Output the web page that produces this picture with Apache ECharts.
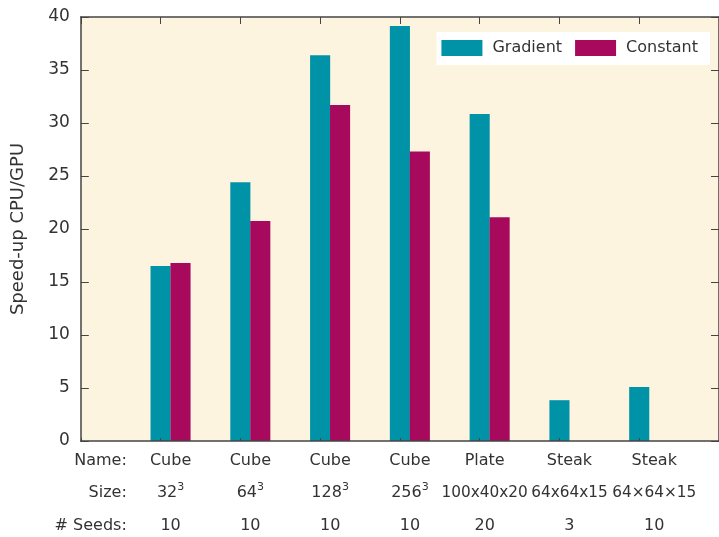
<!DOCTYPE html>
<html>
<head>
<meta charset="utf-8">
<script src="https://cdn.jsdelivr.net/npm/echarts@6/dist/echarts.min.js"></script>
<style>html,body{margin:0;padding:0;background:#fff}#c{width:719px;height:537px}</style>
</head>
<body>
<div id="c"></div>
<script>
// Data
const names = ["Cube", "Cube", "Cube", "Cube", "Plate", "Steak", "Steak"];
const sizeBase = ["32", "64", "128", "256", "100x40x20", "64x64x15", "64×64×15"];
const sizeExp = ["3", "3", "3", "3", "", "", ""];
const seeds = ["10", "10", "10", "10", "20", "3", "10"];
const rowHeaders = ["Name:", "Size:", "# Seeds:"];
const gradient = [16.5, 24.4, 36.4, 39.15, 30.85, 3.85, 5.1];
const constant = [16.8, 20.75, 31.7, 27.3, 21.1, null, null];
const seriesNames = ["Gradient", "Constant"];
const yTicks = { min: 0, max: 40, interval: 5 };

const FONT = "DejaVu Sans";
const TXT = "#333333";
const AX = "#444444";

// label nudges (style only): suffix per column index
const nudge = { 4: 'L', 6: 'R' };

const chart = echarts.init(document.getElementById('c'), null, { renderer: 'canvas' });

const gradData = gradient.map((v, i) => [i + 1, v]);
const constData = constant.map((v, i) => [i + 1.25, v == null ? '-' : v]);

const baseA = { fontFamily: FONT, fontSize: 16, color: TXT, lineHeight: 32.5 };
const baseN = { fontFamily: FONT, fontSize: 15.3, color: TXT, lineHeight: 32.5 };
const rich = {
  a: baseA, aL: Object.assign({}, baseA, { padding: [0, 10, 0, 0] }), aR: Object.assign({}, baseA, { padding: [0, 0, 0, 10] }),
  n: baseN, nL: Object.assign({}, baseN, { padding: [0, 10, 0, 0] }), nR: Object.assign({}, baseN, { padding: [0, 0, 0, 10] }),
  s: { fontFamily: FONT, fontSize: 11, color: TXT, padding: [0, 0, 12, 0] },
  h: { fontFamily: FONT, fontSize: 16, color: TXT, lineHeight: 32.5, width: 72, align: 'right' }
};

function xLabel(v) {
  if (v === 0) return rowHeaders.map(h => '{h|' + h + '}').join('\n');
  const i = Math.round(v) - 1;
  if (i < 0 || i >= names.length) return '';
  const sfx = nudge[i] || '';
  const l1 = '{a' + sfx + '|' + names[i] + '}';
  const l2 = sizeExp[i] ? '{a|' + sizeBase[i] + '}{s|' + sizeExp[i] + '}' : '{n' + sfx + '|' + sizeBase[i] + '}';
  const l3 = '{a' + sfx + '|' + seeds[i] + '}';
  return l1 + '\n' + l2 + '\n' + l3;
}

const option = {
  backgroundColor: '#ffffff',
  animation: false,
  textStyle: { fontFamily: FONT },
  grid: {
    left: 80.8, right: -5.8, top: 17, bottom: 96,
    show: true, backgroundColor: '#fdf4e0', borderWidth: 0, z: 0
  },
  legend: {
    data: seriesNames,
    right: 9, top: 32,
    backgroundColor: '#ffffff',
    padding: [8, 12, 9, 5],
    itemWidth: 41, itemHeight: 16, itemGap: 13,
    icon: 'rect',
    textStyle: { fontFamily: FONT, fontSize: 16, color: TXT, padding: [0, 0, 0, 5] }
  },
  xAxis: [
    {
      type: 'value', position: 'bottom', min: 0, max: 8, interval: 1, z: 5,
      axisLine: { show: true, onZero: false, lineStyle: { color: AX, width: 1.5 } },
      axisTick: { show: true, inside: true, length: 3, lineStyle: { color: AX } },
      splitLine: { show: false },
      axisLabel: {
        show: true, margin: 3.5, padding: [0, 0, 0, 20],
        showMaxLabel: false,
        formatter: xLabel,
        rich: rich
      }
    },
    {
      type: 'value', position: 'top', min: 0, max: 8, interval: 1, z: 5,
      axisLine: { show: true, onZero: false, lineStyle: { color: AX, width: 1.5 } },
      axisTick: { show: true, inside: true, length: 7, lineStyle: { color: AX } },
      splitLine: { show: false },
      axisLabel: { show: false }
    }
  ],
  yAxis: [
    {
      type: 'value', position: 'left', min: yTicks.min, max: yTicks.max, interval: yTicks.interval, z: 5,
      name: 'Speed-up CPU/GPU', nameLocation: 'middle', nameGap: 53, nameRotate: 90,
      nameTextStyle: { fontFamily: FONT, fontSize: 18, color: TXT },
      axisLine: { show: true, onZero: false, lineStyle: { color: AX, width: 1.5 } },
      axisTick: { show: true, inside: true, length: 8, lineStyle: { color: AX } },
      splitLine: { show: false },
      axisLabel: { fontFamily: FONT, fontSize: 17, color: TXT, margin: 11 }
    },
    {
      type: 'value', position: 'right', min: yTicks.min, max: yTicks.max, interval: yTicks.interval, z: 5,
      axisLine: { show: true, onZero: false, lineStyle: { color: AX, width: 1.5 } },
      axisTick: { show: true, inside: true, length: 8, lineStyle: { color: AX } },
      splitLine: { show: false },
      axisLabel: { show: false }
    }
  ],
  series: [
    {
      name: seriesNames[0], type: 'bar', xAxisIndex: 0, yAxisIndex: 0,
      data: gradData, barWidth: 20.1, barGap: '-100%',
      itemStyle: { color: '#0093a7' }
    },
    {
      name: seriesNames[1], type: 'bar', xAxisIndex: 0, yAxisIndex: 0,
      data: constData, barWidth: 20.1, barGap: '-100%',
      itemStyle: { color: '#a70a5d' }
    }
  ]
};
chart.setOption(option);
</script>
</body>
</html>
